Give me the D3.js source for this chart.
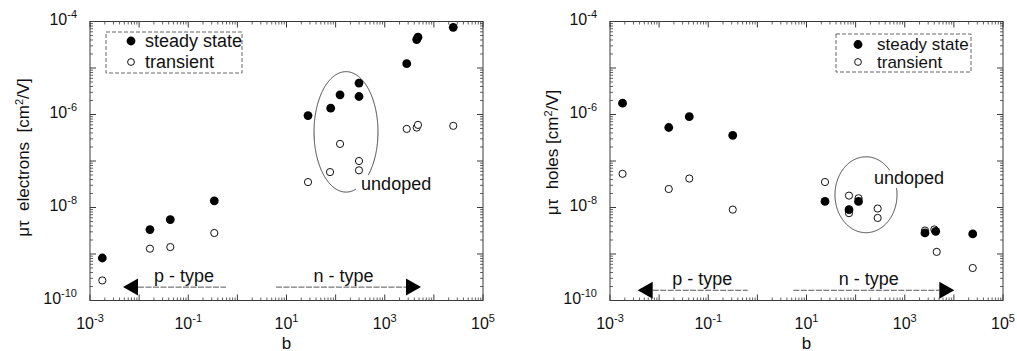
<!DOCTYPE html>
<html>
<head>
<meta charset="utf-8">
<script src="https://cdn.jsdelivr.net/npm/d3@7"></script>
<style>
  html, body { margin: 0; padding: 0; background: #fff; }
  svg { display: block; font-family: "Liberation Sans", Arial, Helvetica, sans-serif; }
</style>
</head>
<body>
<svg id="chart" width="1017" height="351"></svg>
<script>
// ---- data -----------------------------------------------------------
const bTickExps = [-3, -1, 1, 3, 5];
const mtTickExps = [-4, -6, -8, -10];

// electrons
const electronSteadyB  = [1.78e-3, 0.0166, 0.0431, 0.339, 27.4, 79.4, 123, 299, 299, 2800, 4470, 4750, 24800];
const electronSteadyMT = [8.2e-10, 3.36e-9, 5.5e-9, 1.39e-8, 9.5e-7, 1.37e-6, 2.65e-6, 4.75e-6, 2.44e-6, 1.24e-5, 4.08e-5, 4.6e-5, 7.5e-5];
const electronTransientB  = [1.78e-3, 0.0166, 0.0431, 0.339, 27.4, 76.9, 123, 299, 299, 2800, 4470, 4750, 24800];
const electronTransientMT = [2.7e-10, 1.3e-9, 1.41e-9, 2.83e-9, 3.52e-8, 5.78e-8, 2.33e-7, 1.0e-7, 6.3e-8, 4.9e-7, 5.24e-7, 5.98e-7, 5.7e-7];

// holes
const holeSteadyB  = [1.8e-3, 0.0157, 0.0411, 0.315, 23.8, 73.3, 114.6, 2580, 4270, 24200];
const holeSteadyMT = [1.75e-6, 5.25e-7, 9.0e-7, 3.57e-7, 1.35e-8, 8.97e-9, 1.35e-8, 2.84e-9, 3.07e-9, 2.7e-9];
const holeTransientB  = [1.8e-3, 0.0157, 0.0411, 0.315, 23.8, 73.3, 73.3, 114.6, 281, 281, 2580, 4000, 4470, 24200];
const holeTransientMT = [5.3e-8, 2.5e-8, 4.2e-8, 9.0e-9, 3.53e-8, 1.8e-8, 7.55e-9, 1.58e-8, 9.5e-9, 5.96e-9, 3.2e-9, 3.37e-9, 1.11e-9, 5.0e-10];

const legendLabels = ["steady state", "transient"];
const regionLabels = ["p - type", "n - type"];
const undopedLabel = "undoped";

// ---- layout ---------------------------------------------------------
const svg = d3.select("#chart");
const plotW = 393, plotH = 279;
const NB = "\u00a0";

function drawPanel(cfg) {
  const g = svg.append("g").attr("transform", `translate(${cfg.left},${cfg.top})`);
  const x = d3.scaleLog().domain([1e-3, 1e5]).range([0, plotW]);
  const y = d3.scaleLog().domain([1e-10, 1e-4]).range([plotH, 0]);

  // log ticks: majors each decade, minors 2..9
  const majorB = d3.range(-3, 6).map(e => Math.pow(10, e));
  const minorB = [];
  for (let e = -3; e < 5; e++) for (let m = 2; m <= 9; m++) minorB.push(m * Math.pow(10, e));
  const majorM = d3.range(-10, -3).map(e => Math.pow(10, e));
  const minorM = [];
  for (let e = -10; e < -4; e++) for (let m = 2; m <= 9; m++) minorM.push(m * Math.pow(10, e));

  const axStroke = "#3a3a3a";
  // bottom & top tick marks (inward)
  [[plotH, -1], [0, 1]].forEach(([yy, dir]) => {
    g.append("g").selectAll("line").data(majorB).join("line")
      .attr("x1", d => x(d)).attr("x2", d => x(d))
      .attr("y1", yy).attr("y2", yy + dir * 6)
      .attr("stroke", axStroke).attr("stroke-width", 1);
    g.append("g").selectAll("line").data(minorB).join("line")
      .attr("x1", d => x(d)).attr("x2", d => x(d))
      .attr("y1", yy).attr("y2", yy + dir * 3)
      .attr("stroke", axStroke).attr("stroke-width", 0.8);
  });
  // left & right tick marks (inward)
  [[0, 1], [plotW, -1]].forEach(([xx, dir]) => {
    g.append("g").selectAll("line").data(majorM).join("line")
      .attr("y1", d => y(d)).attr("y2", d => y(d))
      .attr("x1", xx).attr("x2", xx + dir * 6)
      .attr("stroke", axStroke).attr("stroke-width", 1);
    g.append("g").selectAll("line").data(minorM).join("line")
      .attr("y1", d => y(d)).attr("y2", d => y(d))
      .attr("x1", xx).attr("x2", xx + dir * 3)
      .attr("stroke", axStroke).attr("stroke-width", 0.8);
  });
  // frame
  g.append("rect").attr("x", 0).attr("y", 0).attr("width", plotW).attr("height", plotH)
    .attr("fill", "none").attr("stroke", axStroke).attr("stroke-width", 1);

  // x tick labels 10^n
  bTickExps.forEach(e => {
    const t = g.append("text").attr("x", x(Math.pow(10, e))).attr("y", plotH + 28)
      .attr("text-anchor", "middle").attr("font-size", 16).attr("fill", "#111");
    t.append("tspan").text("10");
    t.append("tspan").attr("dy", -7).attr("font-size", 11).text(String(e).replace("-", "\u2010"));
  });
  // y tick labels
  mtTickExps.forEach(e => {
    const t = g.append("text").attr("x", -13).attr("y", y(Math.pow(10, e)) + 3)
      .attr("text-anchor", "end").attr("font-size", 16).attr("fill", "#111");
    t.append("tspan").text("10");
    t.append("tspan").attr("dy", -7).attr("font-size", 11).text(String(e).replace("-", "\u2010"));
  });

  // axis titles
  g.append("text").attr("x", plotW / 2).attr("y", plotH + 48).attr("text-anchor", "middle")
    .attr("font-size", 17).attr("fill", "#111").text("b");
  const yt = g.append("text")
    .attr("transform", `translate(${cfg.yTitleX},${cfg.yTitleY}) rotate(-90)`)
    .attr("text-anchor", "middle")
    .attr("font-size", 17).attr("fill", "#111");
  yt.append("tspan").text(cfg.yTitle);
  yt.append("tspan").attr("font-size", 11).attr("dy", -6).text("2");
  yt.append("tspan").attr("dy", 6).text("/V]");

  // region arrows (p-type / n-type)
  const ay = y(cfg.arrowMT);
  const headL = 15, headH = 8.5;
  const pTip = x(cfg.pArrow[0]), pEnd = x(cfg.pArrow[1]);
  const nStart = x(cfg.nArrow[0]), nTip = x(cfg.nArrow[1]);
  g.append("line").attr("x1", pTip + headL).attr("x2", pEnd).attr("y1", ay).attr("y2", ay)
    .attr("stroke", "#555").attr("stroke-width", 1).attr("stroke-dasharray", "6,1.5");
  g.append("path").attr("d", `M${pTip},${ay}L${pTip + headL},${ay - headH}L${pTip + headL},${ay + headH}Z`)
    .attr("fill", "#000");
  g.append("line").attr("x1", nStart).attr("x2", nTip - headL).attr("y1", ay).attr("y2", ay)
    .attr("stroke", "#555").attr("stroke-width", 1).attr("stroke-dasharray", "6,1.5");
  g.append("path").attr("d", `M${nTip},${ay}L${nTip - headL},${ay - headH}L${nTip - headL},${ay + headH}Z`)
    .attr("fill", "#000");
  g.append("text").attr("x", (pTip + headL + pEnd) / 2 + 2).attr("y", ay - 5)
    .attr("text-anchor", "middle").attr("font-size", 18).attr("fill", "#111").text(regionLabels[0]);
  g.append("text").attr("x", (nStart + nTip) / 2 - 5).attr("y", ay - 5)
    .attr("text-anchor", "middle").attr("font-size", 18).attr("fill", "#111").text(regionLabels[1]);

  // "undoped" ellipse (open where the label sits)
  const cx = x(cfg.ell.b), cy = y(cfg.ell.mt);
  const rx = x(cfg.ell.b * Math.pow(10, cfg.ell.rxDec)) - cx;
  const ry = cy - y(cfg.ell.mt * Math.pow(10, cfg.ell.ryDec));
  const angles = d3.range(cfg.ell.from, cfg.ell.to + 0.5, 1).map(a => a * Math.PI / 180);
  g.append("path")
    .attr("d", d3.line()(angles.map(a => [cx + rx * Math.cos(a), cy + ry * Math.sin(a)])))
    .attr("fill", "none").attr("stroke", "#333").attr("stroke-width", 0.9);
  g.append("text").attr("x", x(cfg.undoped[0])).attr("y", y(cfg.undoped[1]))
    .attr("font-size", 18).attr("fill", "#111").text(undopedLabel);

  // markers: transient (open) below, steady state (filled) on top
  g.append("g").selectAll("circle").data(cfg.transB.map((b, i) => [b, cfg.transMT[i]])).join("circle")
    .attr("cx", d => x(d[0])).attr("cy", d => y(d[1])).attr("r", 3.6)
    .attr("fill", "#fff").attr("stroke", "#111").attr("stroke-width", 1);
  g.append("g").selectAll("circle").data(cfg.steadyB.map((b, i) => [b, cfg.steadyMT[i]])).join("circle")
    .attr("cx", d => x(d[0])).attr("cy", d => y(d[1])).attr("r", 4.4)
    .attr("fill", "#000");

  // legend
  const L = cfg.legend;
  g.append("rect").attr("x", L.x).attr("y", L.y).attr("width", L.w).attr("height", L.h)
    .attr("fill", "#fff").attr("stroke", "#666").attr("stroke-width", 1)
    .attr("stroke-dasharray", "4,2");
  g.append("circle").attr("cx", L.mx).attr("cy", L.y1).attr("r", 4.4).attr("fill", "#000");
  g.append("circle").attr("cx", L.mx).attr("cy", L.y2).attr("r", 3.4)
    .attr("fill", "#fff").attr("stroke", "#111").attr("stroke-width", 1);
  g.append("text").attr("x", L.tx).attr("y", L.y1).attr("dominant-baseline", "central")
    .attr("font-size", L.fs).attr("fill", "#111").text(legendLabels[0]);
  g.append("text").attr("x", L.tx).attr("y", L.y2).attr("dominant-baseline", "central")
    .attr("font-size", L.fs).attr("fill", "#111").text(legendLabels[1]);
}

drawPanel({
  left: 90, top: 21.5,
  yTitle: "\u03bc\u03c4" + NB + NB + "electrons" + NB + NB + "[cm",
  yTitleX: -61, yTitleY: 136,
  steadyB: electronSteadyB, steadyMT: electronSteadyMT,
  transB: electronTransientB, transMT: electronTransientMT,
  arrowMT: 1.94e-10, pArrow: [4.7e-3, 0.59], nArrow: [6.1, 5470],
  ell: { b: 162.6, mt: 4.23e-7, rxDec: 0.651, ryDec: 1.295, from: 72, to: 406 },
  undoped: [330, 4.6e-8 / 1.9],
  legend: { x: 16, y: 10.5, w: 136, h: 41, mx: 41, tx: 55, y1: 19.5, y2: 40.5, fs: 18 }
});

drawPanel({
  left: 610, top: 21.5,
  yTitle: "\u03bc\u03c4" + NB + NB + "holes" + NB + "[cm",
  yTitleX: -52, yTitleY: 131,
  steadyB: holeSteadyB, steadyMT: holeSteadyMT,
  transB: holeTransientB, transMT: holeTransientMT,
  arrowMT: 1.66e-10, pArrow: [3.66e-3, 0.635], nArrow: [5.4, 10200],
  ell: { b: 162.6, mt: 1.88e-8, rxDec: 0.631, ryDec: 0.816, from: -10, to: 320 },
  undoped: [236.6, 3.27e-8],
  legend: { x: 226, y: 12.5, w: 135, h: 38, mx: 248, tx: 267, y1: 23, y2: 40.5, fs: 17 }
});
</script>
</body>
</html>
